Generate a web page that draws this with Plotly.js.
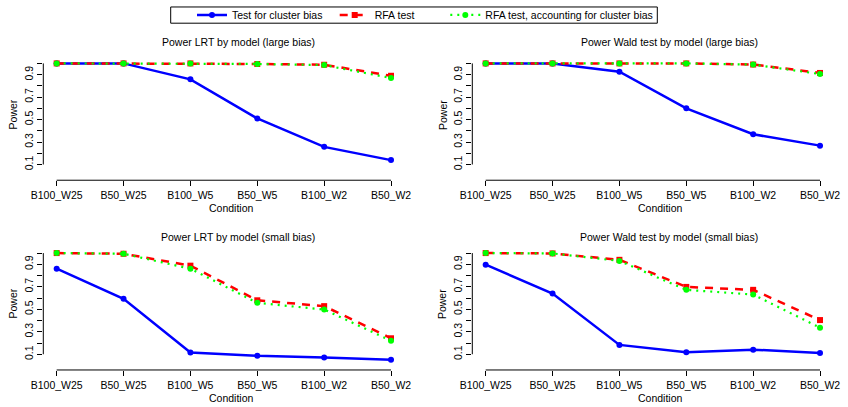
<!DOCTYPE html>
<html>
<head>
<meta charset="utf-8">
<script src="https://cdn.plot.ly/plotly-3.0.1.min.js"></script>
<style>html,body{margin:0;padding:0;background:#fff;} #chart{width:848px;height:407px;}</style>
</head>
<body>
<div id="chart"></div>
<script>
// ---- data ----
const categories = ["B100_W25", "B50_W25", "B100_W5", "B50_W5", "B100_W2", "B50_W2"];
const seriesNames = ["Test for cluster bias", "RFA test", "RFA test, accounting for cluster bias"];

const lrtLargeCluster = [1.0, 1.0, 0.858, 0.51, 0.257, 0.139];
const lrtLargeRfa     = [1.0, 1.0, 1.0, 0.995, 0.988, 0.89];
const lrtLargeRfaAdj  = [1.0, 1.0, 1.0, 0.995, 0.985, 0.87];

const waldLargeCluster = [1.0, 1.0, 0.926, 0.60, 0.369, 0.268];
const waldLargeRfa     = [1.0, 1.0, 1.0, 1.0, 0.99, 0.915];
const waldLargeRfaAdj  = [1.0, 1.0, 1.0, 1.0, 0.99, 0.905];

const lrtSmallCluster = [0.861, 0.593, 0.115, 0.086, 0.072, 0.05];
const lrtSmallRfa     = [1.0, 0.994, 0.888, 0.58, 0.528, 0.242];
const lrtSmallRfaAdj  = [1.0, 0.994, 0.861, 0.557, 0.498, 0.22];

const waldSmallCluster = [0.897, 0.64, 0.183, 0.118, 0.141, 0.112];
const waldSmallRfa     = [1.0, 0.997, 0.94, 0.699, 0.673, 0.404];
const waldSmallRfaAdj  = [1.0, 0.997, 0.93, 0.673, 0.631, 0.336];

const panelTitles = [
  "Power LRT by model (large bias)",
  "Power Wald test by model (large bias)",
  "Power LRT by model (small bias)",
  "Power Wald test by model (small bias)"
];
const yTickVals = [0.1, 0.2, 0.3, 0.4, 0.5, 0.6, 0.7, 0.8, 0.9, 1.0];
const yTickText = ["0.1", "", "0.3", "", "0.5", "", "0.7", "", "0.9", ""];
const xTitle = "Condition";
const yTitle = "Power";

// ---- layout helpers ----
const W = 848, H = 407;
const FONT = "Liberation Sans, Arial, Helvetica, sans-serif";
const FS = 10.5;
const px = v => v / W;
const py = v => 1 - v / H;

const panels = [
  {data: [lrtLargeCluster, lrtLargeRfa, lrtLargeRfaAdj], x0: 43.3, x1: 404.4, top: 57.2, bottom: 179.1, tx: 238, ty: 40, cx: 231.5, cy: 207, px_: 12.7, py_: 113.3},
  {data: [waldLargeCluster, waldLargeRfa, waldLargeRfaAdj], x0: 472.3, x1: 833.4, top: 57.2, bottom: 179.1, tx: 669, ty: 40, cx: 660, cy: 207, px_: 442.3, py_: 113.3},
  {data: [lrtSmallCluster, lrtSmallRfa, lrtSmallRfaAdj], x0: 43.3, x1: 404.4, top: 247.8, bottom: 369.8, tx: 238, ty: 236, cx: 231.5, cy: 398.3, px_: 12.7, py_: 303.3},
  {data: [waldSmallCluster, waldSmallRfa, waldSmallRfaAdj], x0: 472.3, x1: 833.4, top: 247.8, bottom: 369.8, tx: 669, ty: 236, cx: 660, cy: 398.3, px_: 442.3, py_: 303.3}
];

const styles = [
  {color: "#0000FF", dash: "solid", width: 2.5, symbol: "circle", size: 6},
  {color: "#FF0000", dash: "8px,7px", width: 2.5, symbol: "square", size: 6},
  {color: "#00FF00", dash: "2px,5px", width: 2.2, symbol: "circle", size: 6}
];
// legend entry text start positions (px) in the reference legend row
const legendTextX = [228, 370.7, 481.3];
const legendNames = ["legend", "legend2", "legend3"];

const traces = [];
const layout = {
  width: W, height: H,
  margin: {l: 0, r: 0, t: 0, b: 0},
  paper_bgcolor: "#fff", plot_bgcolor: "#fff",
  font: {family: FONT, size: FS, color: "#000"},
  showlegend: true,
  annotations: [],
  shapes: [{type: "rect", xref: "paper", yref: "paper",
    x0: px(170.7), x1: px(657.3), y0: py(21.3), y1: py(5), line: {color: "#000", width: 1}}]
};
legendNames.forEach((ln, s) => {
  layout[ln] = {
    orientation: "h", x: px(legendTextX[s] - 36), xanchor: "left", y: py(13), yanchor: "middle",
    borderwidth: 0, bgcolor: "rgba(0,0,0,0)", font: {family: FONT, size: FS, color: "#000"}
  };
});

panels.forEach((p, i) => {
  const xa = i === 0 ? "x" : "x" + (i + 1);
  const ya = i === 0 ? "y" : "y" + (i + 1);
  const xk = i === 0 ? "xaxis" : "xaxis" + (i + 1);
  const yk = i === 0 ? "yaxis" : "yaxis" + (i + 1);
  p.data.forEach((vals, s) => {
    const st = styles[s];
    traces.push({
      type: "scatter", mode: "lines+markers",
      x: categories, y: vals, xaxis: xa, yaxis: ya,
      name: seriesNames[s], legend: legendNames[s], legendgroup: "g" + s, showlegend: i === 0,
      line: {color: st.color, dash: st.dash, width: st.width},
      marker: {color: st.color, symbol: st.symbol, size: st.size},
      cliponaxis: false
    });
  });
  layout[xk] = {
    domain: [px(p.x0), px(p.x1)], anchor: ya, type: "category",
    range: [-0.2, 5.2], showgrid: false, zeroline: false, showline: false,
    ticks: "outside", ticklen: 5, tickcolor: "#000", tickwidth: 1,
    tickfont: {family: FONT, size: FS, color: "#000"}, fixedrange: true
  };
  layout[yk] = {
    domain: [py(p.bottom), py(p.top)], anchor: xa,
    range: [-0.04, 1.04], showgrid: false, zeroline: false, showline: false,
    tickmode: "array", tickvals: yTickVals, ticktext: yTickText, tickangle: -90,
    ticks: "outside", ticklen: 5, tickcolor: "#000", tickwidth: 1,
    tickfont: {family: FONT, size: FS, color: "#000"}, fixedrange: true
  };
  // R-style axis lines spanning first to last tick
  layout.shapes.push({type: "line", xref: xa, yref: ya + " domain",
    x0: 0, x1: categories.length - 1, y0: 0, y1: 0, line: {color: "#000", width: 1}});
  layout.shapes.push({type: "line", xref: xa + " domain", yref: ya,
    x0: 0, x1: 0, y0: yTickVals[0], y1: yTickVals[yTickVals.length - 1], line: {color: "#000", width: 1}});
  layout.annotations.push({text: panelTitles[i], xref: "paper", yref: "paper",
    x: px(p.tx), y: py(p.ty), xanchor: "center", yanchor: "middle", showarrow: false,
    font: {family: FONT, size: FS, color: "#000"}});
  layout.annotations.push({text: xTitle, xref: "paper", yref: "paper",
    x: px(p.cx), y: py(p.cy), xanchor: "center", yanchor: "middle", showarrow: false,
    font: {family: FONT, size: FS, color: "#000"}});
  layout.annotations.push({text: yTitle, xref: "paper", yref: "paper", textangle: -90,
    x: px(p.px_), y: py(p.py_), xanchor: "center", yanchor: "middle", showarrow: false,
    font: {family: FONT, size: FS, color: "#000"}});
});

Plotly.newPlot("chart", traces, layout, {displayModeBar: false, staticPlot: true});
</script>
</body>
</html>
